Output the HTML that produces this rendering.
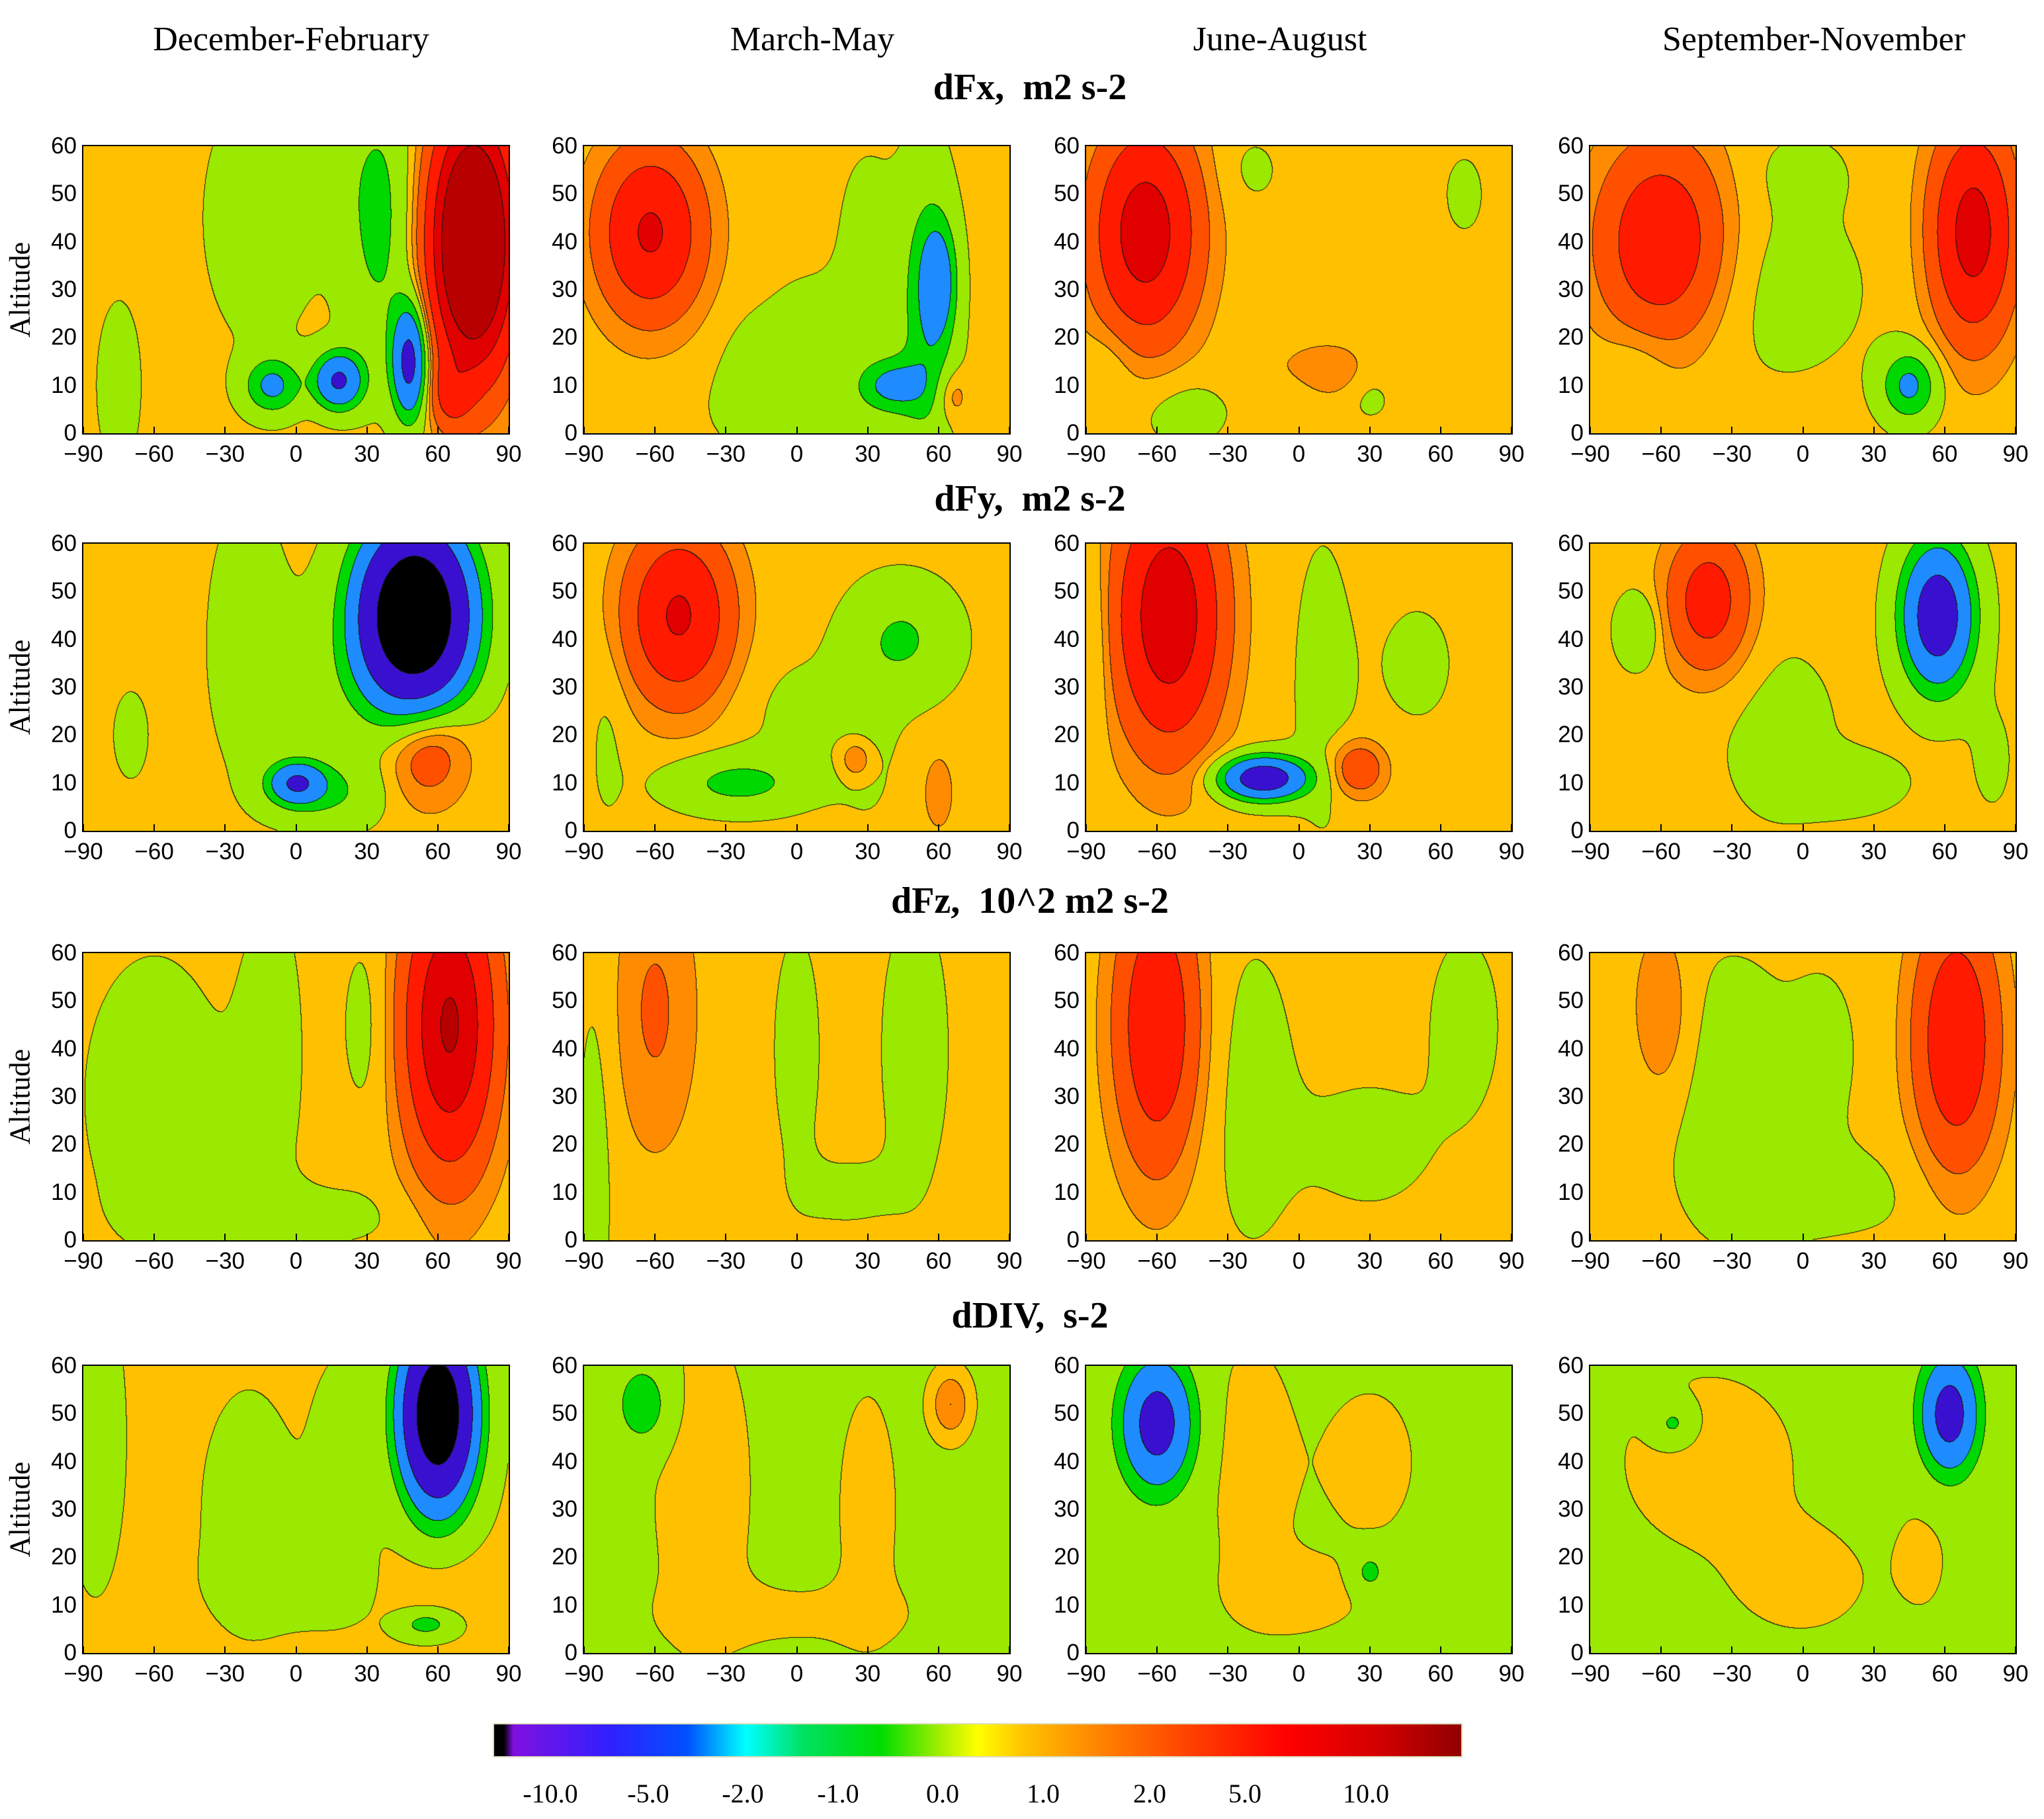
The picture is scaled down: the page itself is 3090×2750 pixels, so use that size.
<!DOCTYPE html>
<html><head><meta charset="utf-8"><style>
body{margin:0;background:#fff;width:3090px;height:2750px;position:relative;overflow:hidden;font-family:"Liberation Serif",serif}
.abs{position:absolute}
.hdr{font-size:52px;transform:translateX(-50%);white-space:nowrap;top:30px}
.ttl{font-size:56px;font-weight:bold;transform:translateX(-50%);white-space:nowrap;left:1557px}
.tk{font-family:"Liberation Sans",sans-serif;font-size:35px;white-space:nowrap}
.frame{border:2px solid #000;box-sizing:border-box}
.alt{font-size:44px;transform:translate(-50%,-50%) rotate(-90deg);white-space:nowrap}
.cbl{font-size:40px;transform:translateX(-50%);top:2688px}
</style></head><body>
<div class="abs hdr" style="left:440px">December-February</div>
<div class="abs hdr" style="left:1228px">March-May</div>
<div class="abs hdr" style="left:1935px">June-August</div>
<div class="abs hdr" style="left:2742px">September-November</div>
<div class="abs ttl" style="top:100px">dFx,&nbsp; m2 s-2</div>
<div class="abs ttl" style="top:722px">dFy,&nbsp; m2 s-2</div>
<div class="abs ttl" style="top:1330px">dFz,&nbsp; 10^2 m2 s-2</div>
<div class="abs ttl" style="top:1957px">dDIV,&nbsp; s-2</div>
<div id="root"></div>
<div class="abs" style="left:745px;top:2605px;width:1466px;height:52px;border:2px solid #ddb;box-sizing:border-box;background:linear-gradient(to right,#000 0%,#000 1%,#8010e0 2%,#3020ff 12%,#0050ff 20%,#00ffff 26%,#00e060 32%,#00dd00 40%,#a0ee00 46%,#ffff00 50%,#ffc000 55%,#ff8000 63%,#ff4000 72%,#ff0000 82%,#d00000 92%,#900000 100%)"></div>
<div id="cbl"></div>
<script>
const xTicks=[-90,-60,-30,0,30,60,90];
const yTicks=[0,10,20,30,40,50,60];
const cbLabels=["-10.0","-5.0","-2.0","-1.0","0.0","1.0","2.0","5.0","10.0"];
const cbLabelX=[832,980,1123,1267,1425,1577,1738,1882,2065];
const levels=[-8,-4,-2,-1,0,0.5,1,2,3.5,5];
const levelColors=["#000000","#3a10d0","#1e8cff","#00d800","#9be800","#ffc000","#ff8c00","#ff5000","#ff1a00","#e00000","#b80000"];
// blobs: [lat, alt, sigmaLat, sigmaAlt, amplitude]
const base=[0.2,0.2,0.2,0.2, 0.2,0.2,0.2,0.2, 0.2,0.2,0.2,0.2, 0.1,-0.2,-0.2,-0.2];
const blobsDfxDJF=[[-75,10,8,15,-0.4],[-15,45,18,20,-0.5],[10,55,12,10,-0.4],[35,45,10,20,-1.5],[18,11,7,4,-4.5],[-10,10,8,4,-2.5],[48,15,5,8,-5],[75,40,12,18,9],[65,8,6,5,1.5]];
const blobsDfxMAM=[[-62,42,15,12,3.5],[-5,5,25,8,-0.4],[30,40,10,15,-0.4],[55,25,8,20,-1.8],[60,32,5,8,-2.5],[40,10,10,4,-2.5],[65,8,5,4,0.9],[5,25,15,8,-0.3],[-20,15,10,8,-0.3]];
const blobsDfxJJA=[[-65,42,15,15,4.2],[10,13,20,4,0.8],[-50,5,15,6,-0.5],[30,10,8,5,-0.5],[-5,10,10,5,-0.4],[-80,15,8,6,-0.4],[-20,55,10,6,-0.3],[70,50,8,8,-0.3]];
const blobsDfxSON=[[-60,40,18,14,3],[72,42,12,15,4],[-10,30,30,15,-0.4],[45,10,8,5,-2.5],[-70,15,10,6,-0.4],[0,55,15,6,-0.3]];
const blobsDfyDJF=[[50,45,15,12,-14],[55,18,12,8,1.8],[0,10,8,3,-4],[15,8,15,5,-1.2],[-20,40,15,25,-0.4],[20,30,20,10,-0.4],[-70,20,8,10,-0.3]];
const blobsDfyMAM=[[-50,45,15,12,3.5],[45,40,15,8,-1.3],[-25,10,20,4,-1.5],[0,25,20,10,-0.3],[30,20,10,15,-0.3],[25,15,5,3,1],[60,8,4,5,0.8],[-80,20,6,15,-0.3]];
const blobsDfyJJA=[[-55,45,15,18,4.5],[-15,11,12,3,-6],[25,13,8,4,1.6],[-85,40,4,15,-0.5],[10,30,10,25,-0.4],[50,35,15,12,-0.3]];
const blobsDfySON=[[-40,48,12,10,2.5],[57,45,10,10,-6],[-70,42,6,5,-1.2],[-10,20,20,15,-0.4],[20,10,15,4,-0.8],[80,15,8,10,-0.3]];
const blobsDfzDJF=[[65,45,13,20,5],[-60,30,25,25,-0.4],[-10,40,10,25,-0.4],[30,45,8,15,-0.4],[0,5,35,5,-0.4]];
const blobsDfzMAM=[[-60,48,12,20,0.9],[-85,20,6,30,-0.4],[0,40,8,20,-0.4],[50,40,12,25,-0.4],[20,10,15,6,-0.3]];
const blobsDfzJJA=[[-60,45,12,20,3],[-20,30,15,25,-0.4],[30,20,20,10,-0.4],[70,45,12,15,-0.4]];
const blobsDfzSON=[[65,42,12,18,3],[-60,48,8,12,0.9],[-30,30,25,25,-0.4],[20,10,30,8,-0.3],[10,40,10,12,-0.3]];
const blobsDivDJF=[[60,50,10,12,-12],[-85,45,8,20,-0.4],[-20,30,12,15,-0.4],[20,40,10,15,-0.3],[10,15,25,6,-0.4],[55,15,20,6,0.3],[55,6,8,2,-1.5]];
const blobsDivMAM=[[-65,52,8,6,-1.5],[-40,35,15,25,0.5],[30,30,10,20,0.4],[65,52,6,5,1.2],[0,8,40,5,0.3]];
const blobsDivJJA=[[-60,48,10,9,-5],[-20,40,15,20,0.4],[30,40,15,12,0.4],[0,12,20,6,0.4],[30,17,5,3,-1.2]];
const blobsDivSON=[[62,50,8,8,-5],[-40,40,30,15,0.4],[0,15,20,8,0.4],[50,20,10,10,0.3],[-55,48,6,3,-1.2]];
const panelBlobs=[blobsDfxDJF,blobsDfxMAM,blobsDfxJJA,blobsDfxSON,blobsDfyDJF,blobsDfyMAM,blobsDfyJJA,blobsDfySON,blobsDfzDJF,blobsDfzMAM,blobsDfzJJA,blobsDfzSON,blobsDivDJF,blobsDivMAM,blobsDivJJA,blobsDivSON];
const colLeft=[126,883,1642,2404], rowTop=[221,822,1441,2065], PW=643, PH=434;
const seasons=["djf","mam","jja","son"], vars=["dfx","dfy","dfz","ddiv"];
const root=document.getElementById('root');
function hex(c){return [parseInt(c.substr(1,2),16),parseInt(c.substr(3,2),16),parseInt(c.substr(5,2),16)];}
const rgb=levelColors.map(hex);
function lvl(v){let i=0;while(i<levels.length&&v>=levels[i])i++;return i;}
panelBlobs.forEach((bl,p)=>{
  const r=Math.floor(p/4),c=p%4,L=colLeft[c],T=rowTop[r];
  const xs=lat=>L+(lat+90)/180*PW, ys=a=>T+PH-a/60*PH;
  const cv=document.createElement('canvas');cv.width=PW;cv.height=PH;cv.className='abs';
  cv.style.left=L+'px';cv.style.top=T+'px';
  
  
  root.appendChild(cv);
  const ctx=cv.getContext('2d'),img=ctx.createImageData(PW,PH),idx=new Uint8Array(PW*PH);
  for(let y=0;y<PH;y++){const a=60*(1-y/PH);for(let x=0;x<PW;x++){const lat=-90+180*x/PW;let v=base[p];
    for(const b of bl){const dx=(lat-b[0])/b[2],dy=(a-b[1])/b[3];v+=b[4]*Math.exp(-0.5*(dx*dx+dy*dy));}
    idx[y*PW+x]=lvl(v);}}
  for(let y=0;y<PH;y++)for(let x=0;x<PW;x++){const k=y*PW+x,i=idx[k];let col=rgb[i];
    if((x<PW-1&&idx[k+1]!==i)||(y<PH-1&&idx[k+PW]!==i))col=[20,20,20];
    img.data[k*4]=col[0];img.data[k*4+1]=col[1];img.data[k*4+2]=col[2];img.data[k*4+3]=255;}
  ctx.putImageData(img,0,0);
  const fr=document.createElement('div');fr.className='abs frame';
  fr.style.cssText=`left:${L-2}px;top:${T-2}px;width:${PW+4}px;height:${PH+4}px`;
  
  
  root.appendChild(fr);
  xTicks.forEach(t=>{const d=document.createElement('div');d.className='abs tk';d.textContent=t===0?'0':String(t).replace('-','\u2212');
    d.style.left=xs(t)+'px';d.style.top=(T+PH+12)+'px';d.style.transform='translateX(-50%)';
    
    
    root.appendChild(d);
    const m=document.createElement('div');m.className='abs';m.style.cssText=`left:${xs(t)-1}px;top:${T+PH-10}px;width:2px;height:10px;background:#000`;
    
    
    root.appendChild(m);});
  yTicks.forEach(t=>{const d=document.createElement('div');d.className='abs tk';d.textContent=t;
    d.style.right=(3090-L+10)+'px';d.style.top=(ys(t)-20)+'px';
    
    
    root.appendChild(d);});
  if(c===0){const a=document.createElement('div');a.className='abs alt';a.textContent='Altitude';
    a.style.left='30px';a.style.top=(T+PH/2)+'px';
    
    
    root.appendChild(a);}
});
const cb=document.getElementById('cbl');
cbLabels.forEach((t,i)=>{const d=document.createElement('div');d.className='abs cbl';d.textContent=t;d.style.left=cbLabelX[i]+'px';
  
  
  cb.appendChild(d);});
</script>
</body></html>
